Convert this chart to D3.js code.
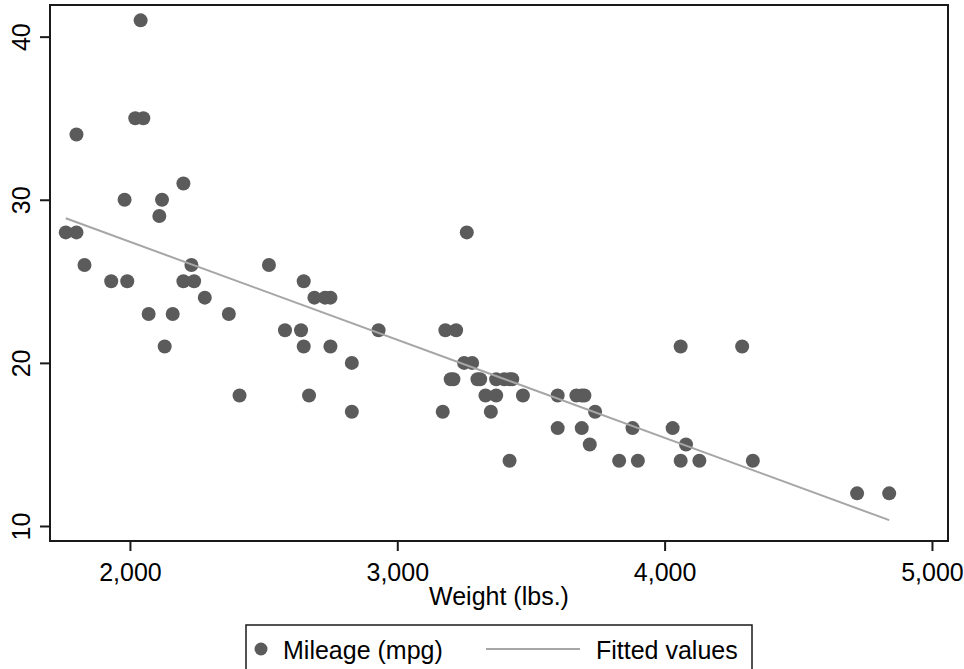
<!DOCTYPE html>
<html>
<head>
<meta charset="utf-8">
<script src="https://cdn.jsdelivr.net/npm/d3@7"></script>
<style>
  body { margin: 0; background: #fff; }
  text { font-family: Arial, "Liberation Sans", sans-serif; fill: #000; }
</style>
</head>
<body>
<svg id="chart" width="964" height="669"></svg>
<script>
// auto data: weight (lbs.) and mileage (mpg)
var weight = [2930, 3350, 2640, 3250, 4080, 3670, 2230, 3280, 3880, 3400,
  4330, 3900, 4290, 2110, 3690, 3180, 3220, 2750, 3430, 2120,
  3600, 3600, 3740, 1800, 2650, 4840, 4720, 3830, 2580, 4060,
  3720, 3370, 4130, 2830, 4060, 3310, 3300, 3690, 3370, 2730,
  4030, 3260, 1800, 2200, 2520, 3330, 3700, 3470, 3210, 3200,
  3420, 2690, 2830, 2070, 2650, 2370, 2020, 2280, 2750, 2130,
  2240, 1760, 1980, 3420, 1830, 2050, 2410, 2200, 2670, 2160,
  2040, 1930, 1990, 3170];
var mpg = [22, 17, 22, 20, 15, 18, 26, 20, 16, 19,
  14, 14, 21, 29, 16, 22, 22, 24, 19, 30,
  18, 16, 17, 28, 21, 12, 12, 14, 22, 14,
  15, 18, 14, 20, 21, 19, 19, 18, 19, 24,
  16, 28, 34, 25, 26, 18, 18, 18, 19, 19,
  19, 24, 17, 23, 25, 23, 35, 24, 21, 21,
  25, 28, 30, 14, 26, 35, 18, 31, 18, 23,
  41, 25, 25, 17];
var xTicks = [2000, 3000, 4000, 5000];
var yTicks = [10, 20, 30, 40];

var svg = d3.select("#chart");
var box = { left: 50, right: 948, top: 5, bottom: 541 };
var fs = 25;

var x = d3.scaleLinear().domain([1701, 5060]).range([box.left, box.right]);
var y = d3.scaleLinear().domain([9.08, 41.94]).range([box.bottom, box.top]);

// least squares fit of mpg on weight
var mx = d3.mean(weight), my = d3.mean(mpg);
var sxy = d3.sum(weight, function(w, i) { return (w - mx) * (mpg[i] - my); });
var sxx = d3.sum(weight, function(w) { return (w - mx) * (w - mx); });
var slope = sxy / sxx, icpt = my - slope * mx;
var fitted = d3.extent(weight).map(function(w) { return [w, icpt + slope * w]; });

// points
svg.append("g").selectAll("circle")
  .data(weight)
  .enter().append("circle")
  .attr("cx", function(d) { return x(d); })
  .attr("cy", function(d, i) { return y(mpg[i]); })
  .attr("r", 7)
  .attr("fill", "#5b5b5b");

// fitted line
svg.append("path")
  .datum(fitted)
  .attr("d", d3.line().x(function(d) { return x(d[0]); }).y(function(d) { return y(d[1]); }))
  .attr("fill", "none")
  .attr("stroke", "#a6a6a6")
  .attr("stroke-width", 2);

// frame
svg.append("rect")
  .attr("x", box.left).attr("y", box.top)
  .attr("width", box.right - box.left).attr("height", box.bottom - box.top)
  .attr("fill", "none")
  .attr("stroke", "#1a1a1a")
  .attr("stroke-width", 2);

// x axis
var xAxis = svg.append("g")
  .attr("transform", "translate(0," + box.bottom + ")")
  .call(d3.axisBottom(x).tickValues(xTicks).tickSize(10).tickPadding(12).tickFormat(d3.format(",")));
xAxis.select(".domain").remove();
xAxis.selectAll("line").attr("stroke", "#1a1a1a").attr("stroke-width", 2);
xAxis.selectAll("text").attr("font-size", fs).attr("fill", "#000");

// y axis
var yAxis = svg.append("g")
  .attr("transform", "translate(" + box.left + ",0)")
  .call(d3.axisLeft(y).tickValues(yTicks).tickSize(10).tickFormat(d3.format("d")));
yAxis.select(".domain").remove();
yAxis.selectAll("line").attr("stroke", "#1a1a1a").attr("stroke-width", 2);
yAxis.selectAll("text")
  .attr("font-size", fs)
  .attr("fill", "#000")
  .attr("x", null).attr("dy", null)
  .attr("text-anchor", "middle")
  .attr("transform", "translate(-20,0) rotate(-90)")
  .attr("y", 0);

// x title
svg.append("text")
  .attr("x", 499).attr("y", 605)
  .attr("text-anchor", "middle")
  .attr("font-size", fs)
  .text("Weight (lbs.)");

// legend
var legend = svg.append("g");
legend.append("rect")
  .attr("x", 246).attr("y", 625)
  .attr("width", 506).attr("height", 60)
  .attr("fill", "#fff")
  .attr("stroke", "#1a1a1a")
  .attr("stroke-width", 1.5);
legend.append("circle")
  .attr("cx", 261).attr("cy", 649).attr("r", 6.5)
  .attr("fill", "#5b5b5b");
legend.append("text")
  .attr("x", 283).attr("y", 659)
  .attr("font-size", fs)
  .text("Mileage (mpg)");
legend.append("line")
  .attr("x1", 486).attr("x2", 580).attr("y1", 649).attr("y2", 649)
  .attr("stroke", "#a6a6a6").attr("stroke-width", 2);
legend.append("text")
  .attr("x", 596).attr("y", 659)
  .attr("font-size", fs)
  .text("Fitted values");
</script>
</body>
</html>
